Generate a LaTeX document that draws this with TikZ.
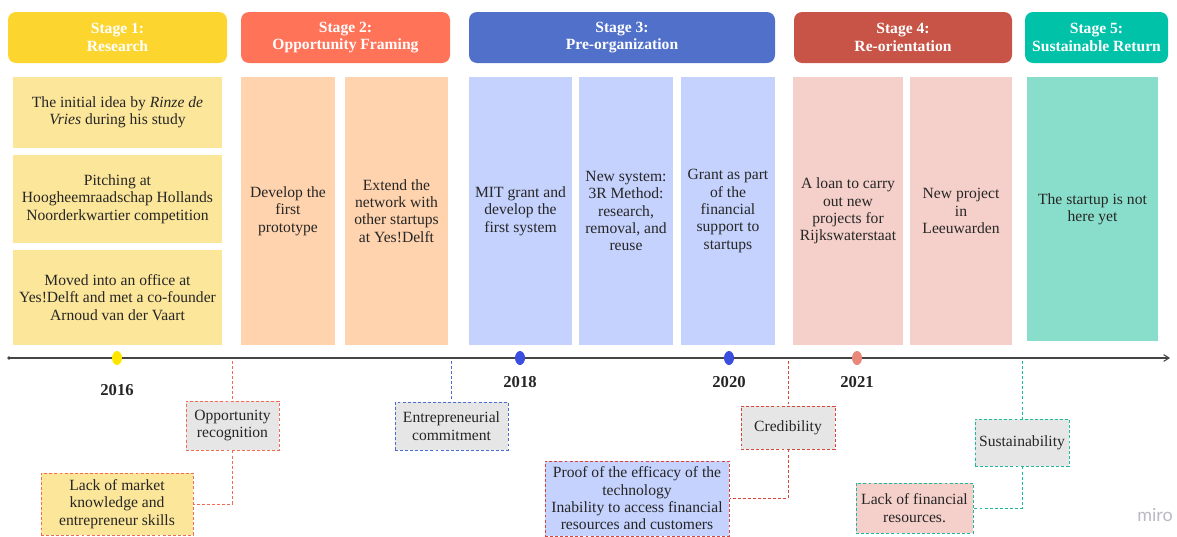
\documentclass[tikz,border=0pt]{standalone}
\usepackage{fontspec}
\setmainfont{Liberation Serif}
\newfontfamily\logofont{Lato}
\usetikzlibrary{arrows.meta,shapes.geometric}

% stage colours
\definecolor{hdA}{HTML}{FDD52F}
\definecolor{hdB}{HTML}{FF7359}
\definecolor{hdC}{HTML}{5070CA}
\definecolor{hdD}{HTML}{C75446}
\definecolor{hdE}{HTML}{00C2A8}
\definecolor{bxA}{HTML}{FCE699}
\definecolor{bxB}{HTML}{FFD3AE}
\definecolor{bxC}{HTML}{C5D2FD}
\definecolor{bxD}{HTML}{F5D0CA}
\definecolor{bxE}{HTML}{89DECB}
\definecolor{tagfill}{HTML}{E6E6E6}
\definecolor{lnA}{HTML}{F26B52}
\definecolor{lnB}{HTML}{4A6CD4}
\definecolor{lnC}{HTML}{D9443A}
\definecolor{lnD}{HTML}{1CB99A}
\definecolor{axis}{HTML}{444444}
\definecolor{dotA}{HTML}{FFE600}
\definecolor{dotB}{HTML}{3A4FE0}
\definecolor{dotC}{HTML}{E8877A}
\definecolor{logo}{HTML}{B9BAC2}

\newcommand\cardfont{\fontsize{11.7pt}{13pt}\selectfont}
\newcommand\yearfont{\fontsize{12.5pt}{14pt}\selectfont\bfseries}

\tikzset{
  % a box given by its corners (x1,y1) and (x2,y2), in pixel units
  span/.style n args={4}{
    minimum width={(#3-#1)*0.75pt}, minimum height={(#4-#2)*0.75pt},
    at={({(#1+#3)/2},{(#2+#4)/2})}},
  header/.style={rounded corners=6pt, inner sep=0pt, text=white, align=center,
                 font=\cardfont\bfseries},
  card/.style={inner sep=0pt, align=center, font=\cardfont, text=black!85},
  tag/.style={inner sep=0pt, align=center, font=\cardfont, text=black!85,
              line width=0.75pt, dash pattern=on 2.2pt off 1.6pt},
  link/.style={line width=0.75pt, dash pattern=on 2.2pt off 1.6pt},
  yeardot/.style={ellipse, inner sep=0pt, minimum width=7.5pt, minimum height=10.5pt},
  year/.style={font=\yearfont, text=black!85},
}

\begin{document}
\begin{tikzpicture}[x=0.75pt,y=-0.75pt]
\useasboundingbox (0,0) rectangle (1177,536);

% stage headers
\node[header, fill=hdA, span={8}{12}{227}{63}] (h1) {Stage 1:\\Research};
\node[header, fill=hdB, span={241}{12}{450}{63}] (h2) {Stage 2:\\Opportunity Framing};
\node[header, fill=hdC, span={469}{12}{775}{63}] (h3) {Stage 3:\\Pre-organization};
\node[header, fill=hdD, span={794}{12}{1012}{63}] (h4) {Stage 4:\\Re-orientation};
\node[header, fill=hdE, span={1025}{12}{1168}{63}] (h5) {Stage 5:\\Sustainable Return};

% stage 1 cards
\node[card, fill=bxA, span={13}{77}{222}{148}] (r1) {The initial idea by \textit{Rinze de}\\\textit{Vries} during his study};
\node[card, fill=bxA, span={13}{155}{222}{243}] (r2) {Pitching at\\Hoogheemraadschap Hollands\\Noorderkwartier competition};
\node[card, fill=bxA, span={13}{250}{222}{345}] (r3) {Moved into an office at\\Yes!Delft and met a co-founder\\Arnoud van der Vaart};

% stage 2 cards
\node[card, fill=bxB, span={241}{77}{335}{345}] (o1) {Develop the\\first\\prototype};
\node[card, fill=bxB, span={345}{77}{448}{345}] (o2) {Extend the\\network with\\other startups\\at Yes!Delft};

% stage 3 cards
\node[card, fill=bxC, span={469}{77}{572}{345}] (p1) {MIT grant and\\develop the\\first system};
\node[card, fill=bxC, span={579}{77}{673}{345}] (p2) {New system:\\3R Method:\\research,\\removal, and\\reuse};
\node[card, fill=bxC, span={681}{77}{775}{345}] (p3) {Grant as part\\of the\\financial\\support to\\startups};

% stage 4 cards
\node[card, fill=bxD, span={793}{77}{903}{345}] (q1) {A loan to carry\\out new\\projects for\\Rijkswaterstaat};
\node[card, fill=bxD, span={910}{77}{1012}{345}] (q2) {New project\\in\\Leeuwarden};

% stage 5 card
\node[card, fill=bxE, span={1027}{77}{1158}{341}] (s1) {The startup is not\\here yet};

% time axis
\coordinate (t0) at (9,358);
\coordinate (t1) at (1170,358);
\draw[axis, line width=0.8pt, -{Straight Barb[length=4pt,width=5pt]}] (t0) -- (t1);
\fill[axis] (t0) circle (1.4pt);

\node[yeardot, fill=dotA] (d16) at (117,358) {};
\node[yeardot, fill=dotB] (d18) at (520,358) {};
\node[yeardot, fill=dotB] (d20) at (729,358) {};
\node[yeardot, fill=dotC] (d21) at (857,358) {};

\node[year] (y16) at (117,390) {2016};
\node[year] (y18) at (520,382) {2018};
\node[year] (y20) at (729,382) {2020};
\node[year] (y21) at (857,382) {2021};

% milestone tags below the axis
\node[tag, draw=lnA, fill=tagfill, span={186}{401}{279}{450}] (opp) {Opportunity\\recognition};
\node[tag, draw=lnA, fill=bxA, span={41}{473}{193}{535}] (lackm) {Lack of market\\knowledge and\\entrepreneur skills};
\node[tag, draw=lnB, fill=tagfill, span={395}{402}{508}{450}] (ent) {Entrepreneurial\\commitment};
\node[tag, draw=lnC, fill=tagfill, span={741}{406}{835}{449}] (cred) {Credibility};
\node[tag, draw=lnC, fill=bxC, span={545}{461}{729}{536}] (proof) {Proof of the efficacy of the\\technology\\Inability to access financial\\resources and customers};
\node[tag, draw=lnD, fill=tagfill, span={975}{419}{1069}{466}] (sust) {Sustainability};
\node[tag, draw=lnD, fill=bxD, span={856}{483}{973}{533}] (lackf) {Lack of financial\\resources.};

% dashed leaders
\coordinate (a1) at (232.5,361);
\coordinate (a2) at (451.5,361);
\coordinate (a3) at (788,361);
\coordinate (a4) at (1022,361);
\draw[link, lnA] (a1) -- (opp.north);
\draw[link, lnA] (opp.south) |- (lackm.east);
\draw[link, lnB] (a2) -- (ent.north);
\draw[link, lnC] (a3) -- (cred.north);
\draw[link, lnC] (cred.south) |- (proof.east);
\draw[link, lnD] (a4) -- (sust.north);
\draw[link, lnD] (sust.south) |- (lackf.east);

% watermark
\node[text=logo, font=\logofont\fontsize{13.5pt}{15pt}\selectfont] (mark) at (1155,515) {miro};
\end{tikzpicture}
\end{document}
